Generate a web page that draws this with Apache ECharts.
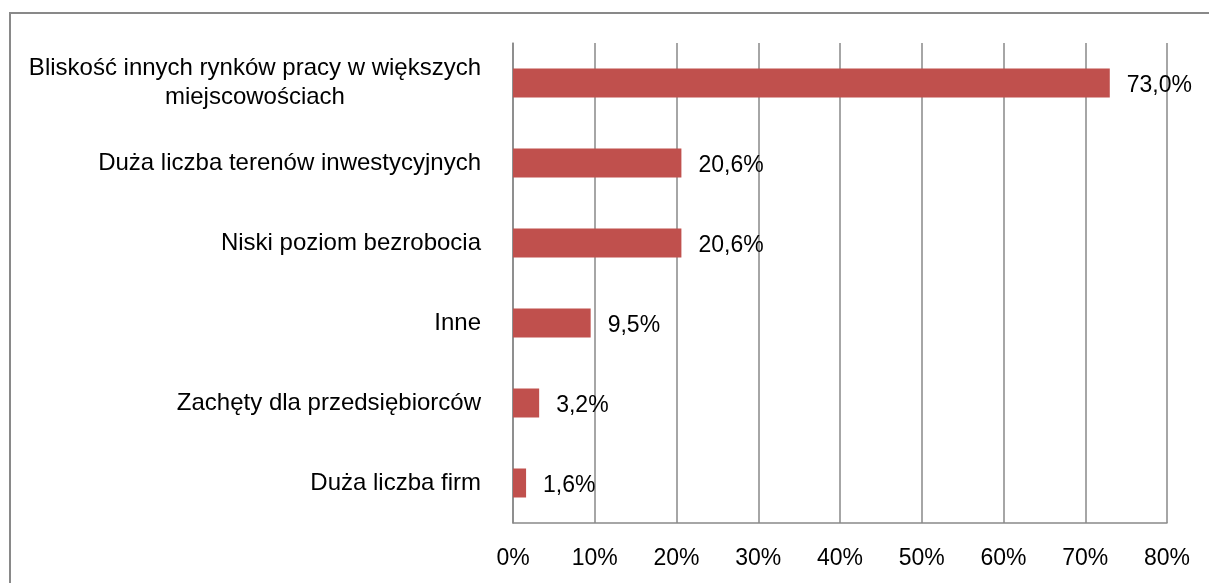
<!DOCTYPE html>
<html><head><meta charset="utf-8">
<script src="https://cdn.jsdelivr.net/npm/echarts@6/dist/echarts.min.js"></script>
<style>html,body{margin:0;padding:0;background:#fff}#c{width:1209px;height:583px}</style>
</head><body><div id="c"></div>
<script>
const categories = [
  "Bliskość innych rynków pracy w większych\nmiejscowościach",
  "Duża liczba terenów inwestycyjnych",
  "Niski poziom bezrobocia",
  "Inne",
  "Zachęty dla przedsiębiorców",
  "Duża liczba firm"
];
const values = [73.0, 20.6, 20.6, 9.5, 3.2, 1.6];
const xTicks = [0, 10, 20, 30, 40, 50, 60, 70, 80];

const FONT = "Liberation Sans";
const chart = echarts.init(document.getElementById('c'));
chart.setOption({
  animation: false,
  graphic: [{type:'rect', shape:{x:10,y:13,width:1230,height:620}, style:{fill:'none', stroke:'#898989', lineWidth:2}, silent:true}],
  grid: {left: 513, right: 42, top: 43, bottom: 60, containLabel: false},
  xAxis: {
    type: 'value', min: xTicks[0], max: xTicks[xTicks.length-1], interval: 10,
    axisLine: {show: true, lineStyle: {color: '#898989', width: 1.5}},
    axisTick: {show: false},
    splitLine: {show: true, lineStyle: {color: '#898989', width: 1.5}},
    axisLabel: {formatter: '{value}%', color: '#000', fontFamily: FONT, fontSize: 23, margin: 24}
  },
  yAxis: {
    type: 'category', inverse: true, data: categories,
    axisLine: {show: true, lineStyle: {color: '#898989', width: 1.5}},
    axisTick: {show: false},
    axisLabel: {
      margin: 32, align: 'right',
      formatter: v => v.split('\n').map(s => '{a|' + s + '}').join('\n'),
      rich: {a: {align: 'center', color: '#000', fontFamily: FONT, fontSize: 24, lineHeight: 29}}
    }
  },
  series: [{
    type: 'bar', data: values, barWidth: 29,
    itemStyle: {color: '#C0504D'},
    label: {show: true, position: 'right', distance: 17, offset: [0, 3], color: '#000', fontFamily: FONT, fontSize: 23,
      formatter: p => p.value.toFixed(1).replace('.', ',') + '%'}
  }]
});
</script></body></html>
